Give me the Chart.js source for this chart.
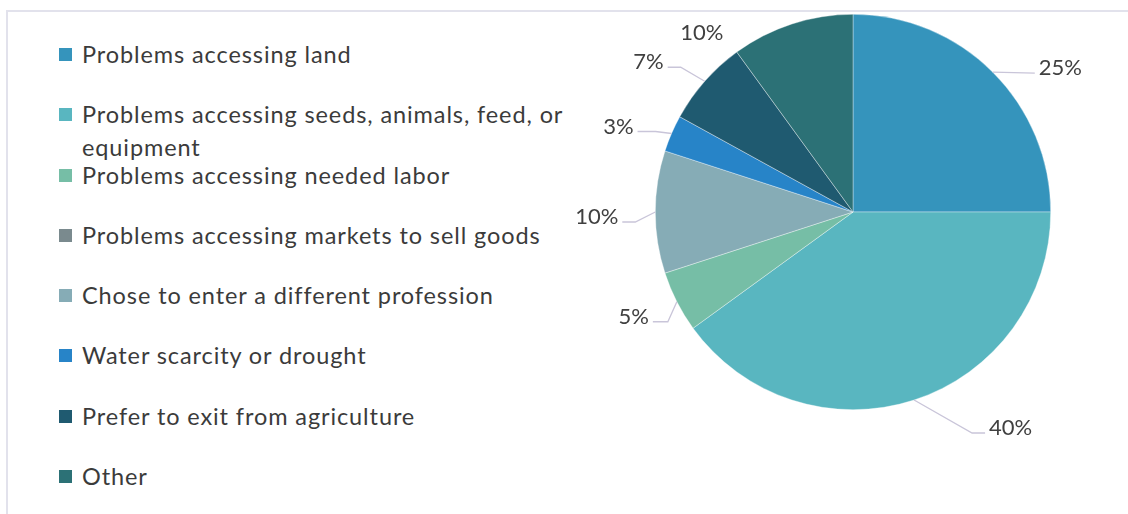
<!DOCTYPE html>
<html>
<head>
<meta charset="utf-8">
<script src="https://cdn.jsdelivr.net/npm/chart.js@4"></script>
<style>
  body { margin: 0; background: #fff; font-family: Lato, "Noto Sans", sans-serif; }
  #wrap { position: relative; width: 1128px; height: 514px; overflow: hidden; }
  #frame { position: absolute; left: 6px; top: 10px; width: 1200px; height: 600px;
           border: 2px solid #e2e2ec; box-sizing: border-box; }
  #pie { position: absolute; left: 0; top: 0; }
  #legend { position: absolute; left: 59px; top: 38px; }
  .item { display: flex; align-items: flex-start; height: 60.3px; }
  .box { width: 13px; height: 13px; margin-top: 10px; flex: none; }
  .txt { margin-left: 10px; font-size: 23.5px; letter-spacing: 0.9px; line-height: 33px; color: #3b3b3b; max-width: 505px; }
</style>
</head>
<body>
<div id="wrap">
  <div id="frame"></div>
  <div id="legend"></div>
  <canvas id="pie" width="1128" height="514"></canvas>
</div>
<script>
const categories = [
  "Problems accessing land",
  "Problems accessing seeds, animals, feed, or equipment",
  "Problems accessing needed labor",
  "Problems accessing markets to sell goods",
  "Chose to enter a different profession",
  "Water scarcity or drought",
  "Prefer to exit from agriculture",
  "Other"
];
const shares = [25, 40, 5, 0, 10, 3, 7, 10];
const sliceColors = ["#3594bc", "#59b6c0", "#76bea6", "#7a8a8e", "#86acb6", "#2784c8", "#1f5a70", "#2c7176"];

// legend (html so the long label can wrap like the original)
const legend = document.getElementById("legend");
categories.forEach((name, i) => {
  const row = document.createElement("div");
  row.className = "item";
  row.innerHTML = '<span class="box" style="background:' + sliceColors[i] + '"></span><span class="txt"></span>';
  row.querySelector(".txt").textContent = name;
  legend.appendChild(row);
});

// leader line layout per slice: elbow offset from arc midpoint, then horizontal tail
const leaders = [
  { e: [42, 1], t: 0 },
  { e: [58, 33], t: 13 },
  { e: [-9, 20], t: -15 },
  null,
  { e: [-20, 10], t: -13 },
  { e: [-16, -2], t: -18 },
  { e: [-24, -14], t: -13 },
  { free: [-90, 9] }
];

const outsideLabels = {
  id: "outsideLabels",
  afterDatasetsDraw(chart) {
    const ctx = chart.ctx;
    const arcs = chart.getDatasetMeta(0).data;
    ctx.save();
    ctx.font = "22px Lato";
    ctx.fillStyle = "#404040";
    ctx.textBaseline = "middle";
    arcs.forEach((arc, i) => {
      const v = shares[i];
      const lay = leaders[i];
      if (!v || !lay) return;
      const mid = (arc.startAngle + arc.endAngle) / 2;
      const px = arc.x + Math.cos(mid) * arc.outerRadius;
      const py = arc.y + Math.sin(mid) * arc.outerRadius;
      const text = v + "%";
      if (lay.free) {
        ctx.textAlign = "center";
        ctx.fillText(text, px + lay.free[0], py + lay.free[1]);
        return;
      }
      const ex = px + lay.e[0], ey = py + lay.e[1];
      const tx = ex + lay.t;
      ctx.strokeStyle = "#c9c5d9";
      ctx.lineWidth = 1.3;
      ctx.beginPath();
      ctx.moveTo(px, py);
      ctx.lineTo(ex, ey);
      ctx.lineTo(tx, ey);
      ctx.stroke();
      const right = lay.e[0] >= 0;
      ctx.textAlign = right ? "left" : "right";
      ctx.fillText(text, tx + (right ? 4 : -4), ey - 5);
    });
    ctx.restore();
  }
};

new Chart(document.getElementById("pie").getContext("2d"), {
  type: "pie",
  data: {
    labels: categories,
    datasets: [{
      data: shares,
      backgroundColor: sliceColors,
      borderColor: "rgba(255,255,255,0.6)",
      borderWidth: 0.6
    }]
  },
  options: {
    responsive: false,
    animation: false,
    devicePixelRatio: 1,
    layout: { padding: { left: 655, right: 77, top: 14, bottom: 104 } },
    plugins: { legend: { display: false }, tooltip: { enabled: false } }
  },
  plugins: [outsideLabels]
});
</script>
</body>
</html>
